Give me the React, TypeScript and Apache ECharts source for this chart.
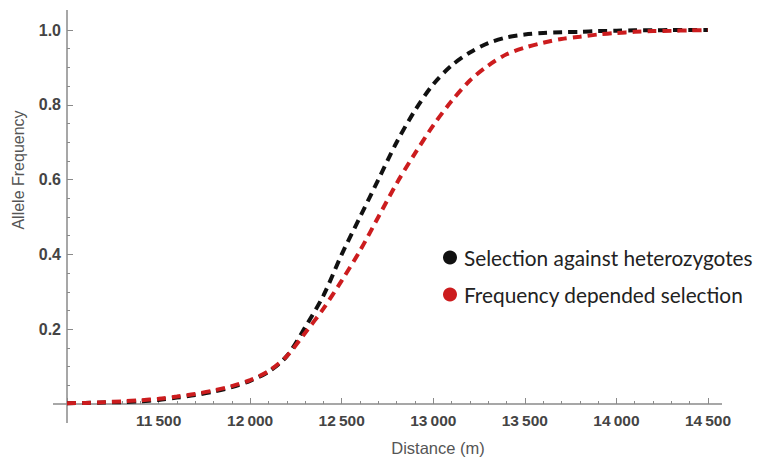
import React, { useEffect, useRef } from "react";
import * as echarts from "echarts";

const distance = [
  11000, 11100, 11200, 11300, 11400, 11500, 11600, 11700, 11800, 11900,
  12000, 12100, 12200, 12300, 12400, 12500, 12600, 12700, 12800, 12900,
  13000, 13100, 13200, 13300, 13400, 13500, 13600, 13700, 13800, 13900,
  14000, 14100, 14200, 14300, 14400, 14500,
];

const heterozygotes = [
  0.002, 0.003, 0.004, 0.005, 0.007, 0.011, 0.017, 0.024, 0.033, 0.045,
  0.062, 0.086, 0.128, 0.205, 0.29, 0.4, 0.5, 0.6, 0.7, 0.785,
  0.855, 0.905, 0.94, 0.965, 0.98, 0.988, 0.992, 0.994, 0.995, 0.997,
  0.998, 0.999, 0.999, 1.0, 1.0, 1.0,
];

const frequencyDependent = [
  0.002, 0.003, 0.005, 0.007, 0.01, 0.014, 0.02, 0.027, 0.036, 0.048,
  0.064, 0.088, 0.128, 0.19, 0.255, 0.33, 0.41, 0.5, 0.59, 0.67,
  0.745, 0.81, 0.865, 0.905, 0.935, 0.953, 0.966, 0.976, 0.982, 0.988,
  0.992, 0.995, 0.997, 0.998, 0.999, 1.0,
];

const seriesNames = ["Selection against heterozygotes", "Frequency depended selection"];
const seriesColors = ["#111111", "#cc1c1e"];
const xTitle = "Distance (m)";
const yTitle = "Allele Frequency";

const GRID_LEFT = 67;
const GRID_TOP = 30;
const GRID_W = 641;
const GRID_H = 374;

export default function App() {
  const ref = useRef<HTMLDivElement>(null);
  useEffect(() => {
    if (!ref.current) return;
    const chart = echarts.init(ref.current, null, { renderer: "svg" });
    const mk = (ys: number[]) => distance.map((d, i) => [d, ys[i]]);
    const axisColor = "#8a8a8a";
    chart.setOption({
      animation: false,
      backgroundColor: "#ffffff",
      grid: { left: GRID_LEFT, top: GRID_TOP, width: GRID_W, height: GRID_H },
      xAxis: {
        type: "value",
        min: 11000,
        max: 14500,
        interval: 500,
        axisLine: { show: false },
        axisTick: { show: true, inside: true, length: 6, lineStyle: { color: axisColor, width: 1 } },
        minorTick: { show: true, splitNumber: 5, length: 3, lineStyle: { color: axisColor, width: 1 } },
        splitLine: { show: false },
        axisLabel: {
          margin: 8,
          color: "#444444",
          fontSize: 15.5,
          fontWeight: "bold",
          fontFamily: "Liberation Sans",
          formatter: (v: number) =>
            v === 11000 ? "" : `${Math.floor(v / 1000)}\u2009${String(v % 1000).padStart(3, "0")}`,
        },
      },
      yAxis: {
        type: "value",
        min: 0,
        max: 1,
        interval: 0.2,
        axisLine: { show: false },
        axisTick: { show: true, inside: true, length: 6, lineStyle: { color: axisColor, width: 1 } },
        minorTick: { show: true, splitNumber: 4, length: 3, lineStyle: { color: axisColor, width: 1 } },
        splitLine: { show: false },
        axisLabel: {
          margin: 6,
          color: "#444444",
          fontSize: 16,
          fontWeight: "bold",
          fontFamily: "Liberation Sans",
          formatter: (v: number) => (v === 0 ? "" : v.toFixed(1)),
        },
      },
      legend: {
        orient: "vertical",
        left: 438,
        top: 242,
        itemGap: 16,
        itemWidth: 14,
        itemHeight: 14,
        textStyle: { fontSize: 20.8, fontFamily: "Lato", color: "#222222", padding: [0, 0, 0, 2] },
        data: seriesNames.map((n) => ({ name: n, icon: "circle" })),
      },
      graphic: [
        {
          type: "line",
          shape: { x1: GRID_LEFT, y1: 10, x2: GRID_LEFT, y2: 423 },
          style: { stroke: axisColor, lineWidth: 1.5 },
          z: 1,
        },
        {
          type: "line",
          shape: { x1: 53, y1: GRID_TOP + GRID_H, x2: 722, y2: GRID_TOP + GRID_H },
          style: { stroke: axisColor, lineWidth: 1.5 },
          z: 1,
        },
        {
          type: "text",
          x: 18,
          y: 170,
          rotation: Math.PI / 2,
          style: {
            text: yTitle,
            fontSize: 16,
            fontFamily: "Liberation Sans",
            fill: "#555555",
            align: "center",
            verticalAlign: "middle",
          },
        },
        {
          type: "text",
          x: 438,
          y: 448,
          style: {
            text: xTitle,
            fontSize: 16.5,
            fontFamily: "Liberation Sans",
            fill: "#555555",
            align: "center",
            verticalAlign: "middle",
          },
        },
      ],
      series: [
        {
          name: seriesNames[0],
          type: "line",
          data: mk(heterozygotes),
          smooth: 0.3,
          showSymbol: false,
          color: seriesColors[0],
          lineStyle: { width: 4, type: [9, 6], color: seriesColors[0] },
          z: 3,
        },
        {
          name: seriesNames[1],
          type: "line",
          data: mk(frequencyDependent),
          smooth: 0.3,
          showSymbol: false,
          color: seriesColors[1],
          lineStyle: { width: 4, type: [9, 6], color: seriesColors[1] },
          z: 4,
        },
      ],
    });
    return () => chart.dispose();
  }, []);
  return <div ref={ref} style={{ width: 769, height: 461, position: "absolute", left: 0, top: 0 }} />;
}
